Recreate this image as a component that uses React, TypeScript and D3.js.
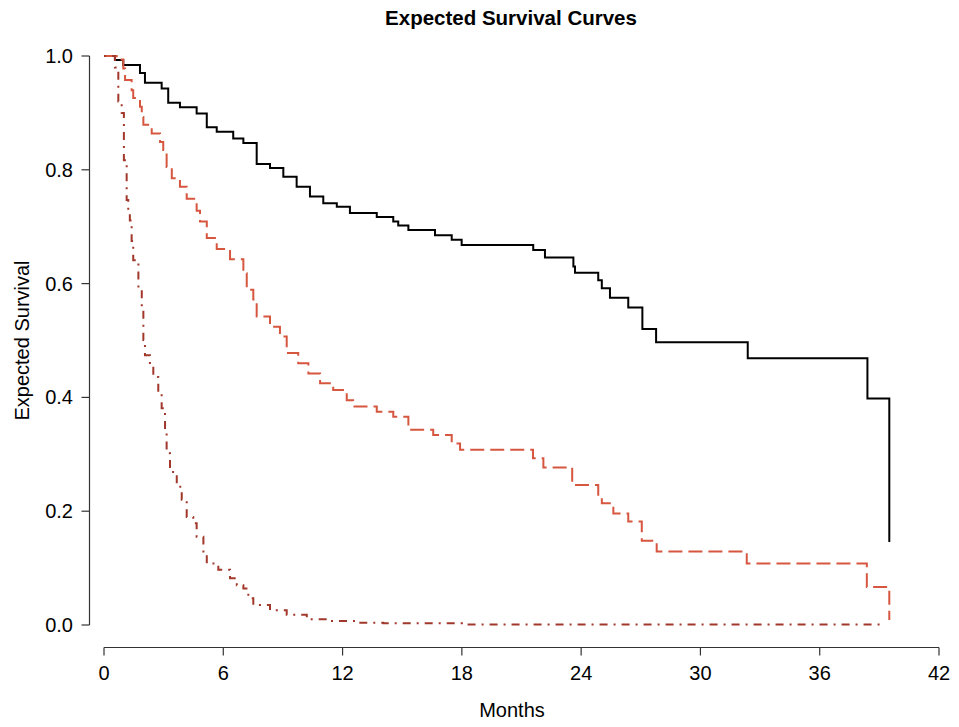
import React from "react";
import * as d3 from "d3";

// months at which each curve steps down, and the survival after the step
const blackTimes = [0, 0.55, 0.97, 1.81, 2.06, 2.9, 3.23, 3.82, 4.66, 5.17, 5.67, 6.5, 7.01, 7.68, 8.35, 9.02, 9.69, 10.36, 11.03, 11.71, 12.37, 13.72, 14.55, 14.8, 15.31, 16.65, 17.49, 17.99, 21.59, 22.18, 23.61, 23.69, 24.86, 25.04, 25.45, 26.37, 27.08, 27.77, 32.38, 38.4, 39.5];
const blackSurv = [1.0, 0.993, 0.984, 0.97, 0.953, 0.943, 0.918, 0.91, 0.899, 0.875, 0.867, 0.855, 0.847, 0.81, 0.803, 0.788, 0.77, 0.753, 0.741, 0.735, 0.724, 0.717, 0.709, 0.702, 0.694, 0.685, 0.677, 0.668, 0.659, 0.646, 0.63, 0.619, 0.606, 0.592, 0.575, 0.558, 0.52, 0.497, 0.469, 0.398, 0.146];

const dashTimes = [0, 0.64, 0.97, 1.06, 1.39, 1.47, 1.81, 1.9, 1.98, 2.4, 2.82, 2.98, 3.15, 3.41, 3.82, 4.16, 4.66, 4.83, 5.17, 5.67, 6.34, 7.01, 7.18, 7.51, 7.68, 8.35, 8.85, 9.19, 9.77, 10.28, 10.87, 11.53, 12.21, 12.53, 13.72, 14.55, 15.31, 16.56, 17.49, 17.91, 21.58, 22.1, 23.55, 24.86, 25.04, 25.62, 26.37, 27.05, 27.8, 32.33, 38.37, 39.5];
const dashSurv = [1.0, 0.994, 0.978, 0.958, 0.94, 0.926, 0.911, 0.893, 0.879, 0.864, 0.849, 0.835, 0.805, 0.785, 0.77, 0.749, 0.728, 0.709, 0.68, 0.661, 0.643, 0.618, 0.589, 0.572, 0.542, 0.524, 0.507, 0.478, 0.46, 0.442, 0.425, 0.413, 0.395, 0.384, 0.375, 0.366, 0.343, 0.334, 0.319, 0.308, 0.293, 0.277, 0.246, 0.225, 0.214, 0.196, 0.182, 0.148, 0.129, 0.108, 0.067, 0.009];

const dotTimes = [0, 0.55, 0.72, 0.89, 1.0, 1.14, 1.22, 1.3, 1.39, 1.47, 1.73, 1.9, 1.98, 2.06, 2.31, 2.48, 2.73, 2.9, 3.07, 3.15, 3.32, 3.66, 3.91, 4.16, 4.49, 4.66, 5.0, 5.17, 5.75, 6.34, 6.68, 7.01, 7.26, 7.51, 8.35, 9.19, 10.2, 11.37, 12.71, 14.05, 18.0, 39.3];
const dotSurv = [1.0, 0.98, 0.92, 0.9, 0.817, 0.747, 0.729, 0.711, 0.675, 0.641, 0.589, 0.554, 0.501, 0.474, 0.454, 0.436, 0.407, 0.381, 0.337, 0.302, 0.269, 0.243, 0.22, 0.19, 0.179, 0.155, 0.126, 0.108, 0.097, 0.082, 0.07, 0.064, 0.047, 0.035, 0.026, 0.018, 0.01, 0.007, 0.004, 0.003, 0.001, 0.001];

const xTicks = [0, 6, 12, 18, 24, 30, 36, 42];
const yTicks = [0, 0.2, 0.4, 0.6, 0.8, 1.0];

const series = [
  { times: blackTimes, surv: blackSurv, color: "#000000", dash: null },
  { times: dashTimes, surv: dashSurv, color: "#d6563f", dash: "14,6" },
  { times: dotTimes, surv: dotSurv, color: "#a1382b", dash: "2,6,8,6" },
];

const font = "'Liberation Sans', Arial, Helvetica, sans-serif";

const App = () => {
  const width = 959;
  const height = 727;

  const x = d3.scaleLinear().domain([0, 42]).range([104, 939]);
  const y = d3.scaleLinear().domain([0, 1]).range([625, 56]);

  const line = d3
    .line<[number, number]>()
    .x((d) => x(d[0]))
    .y((d) => y(d[1]))
    .curve(d3.curveStepAfter);

  const axisX = 89.5;
  const axisY = 647.5;

  return (
    <svg
      width={width}
      height={height}
      style={{ position: "absolute", left: 0, top: 0, background: "#fff" }}
      fontFamily={font}
    >
      <rect width={width} height={height} fill="#fff" />
      <text x={511} y={25} textAnchor="middle" fontSize={20.5} fontWeight="bold">
        Expected Survival Curves
      </text>

      {/* y axis */}
      <line x1={axisX} x2={axisX} y1={y(0)} y2={y(1)} stroke="#333" strokeWidth={1.2} />
      {yTicks.map((t) => (
        <g key={t}>
          <line x1={axisX - 8} x2={axisX} y1={y(t)} y2={y(t)} stroke="#333" strokeWidth={1.2} />
          <text x={73} y={y(t)} dy="0.35em" textAnchor="end" fontSize={20}>
            {t.toFixed(1)}
          </text>
        </g>
      ))}

      {/* x axis */}
      <line x1={x(0)} x2={x(42)} y1={axisY} y2={axisY} stroke="#333" strokeWidth={1.2} />
      {xTicks.map((t) => (
        <g key={t}>
          <line x1={x(t)} x2={x(t)} y1={axisY} y2={axisY + 8} stroke="#333" strokeWidth={1.2} />
          <text x={x(t)} y={673} dy="0.35em" textAnchor="middle" fontSize={20}>
            {t}
          </text>
        </g>
      ))}

      <text x={512} y={710} dy="0.35em" textAnchor="middle" fontSize={20}>
        Months
      </text>
      <text
        transform={`translate(22, ${(y(0) + y(1)) / 2}) rotate(-90)`}
        dy="0.35em"
        textAnchor="middle"
        fontSize={20}
      >
        Expected Survival
      </text>

      {series.map((s, i) => (
        <path
          key={i}
          d={line(s.times.map((t, j) => [t, s.surv[j]] as [number, number])) || ""}
          fill="none"
          stroke={s.color}
          strokeWidth={2}
          strokeDasharray={s.dash || undefined}
        />
      ))}
    </svg>
  );
};

export default App;
